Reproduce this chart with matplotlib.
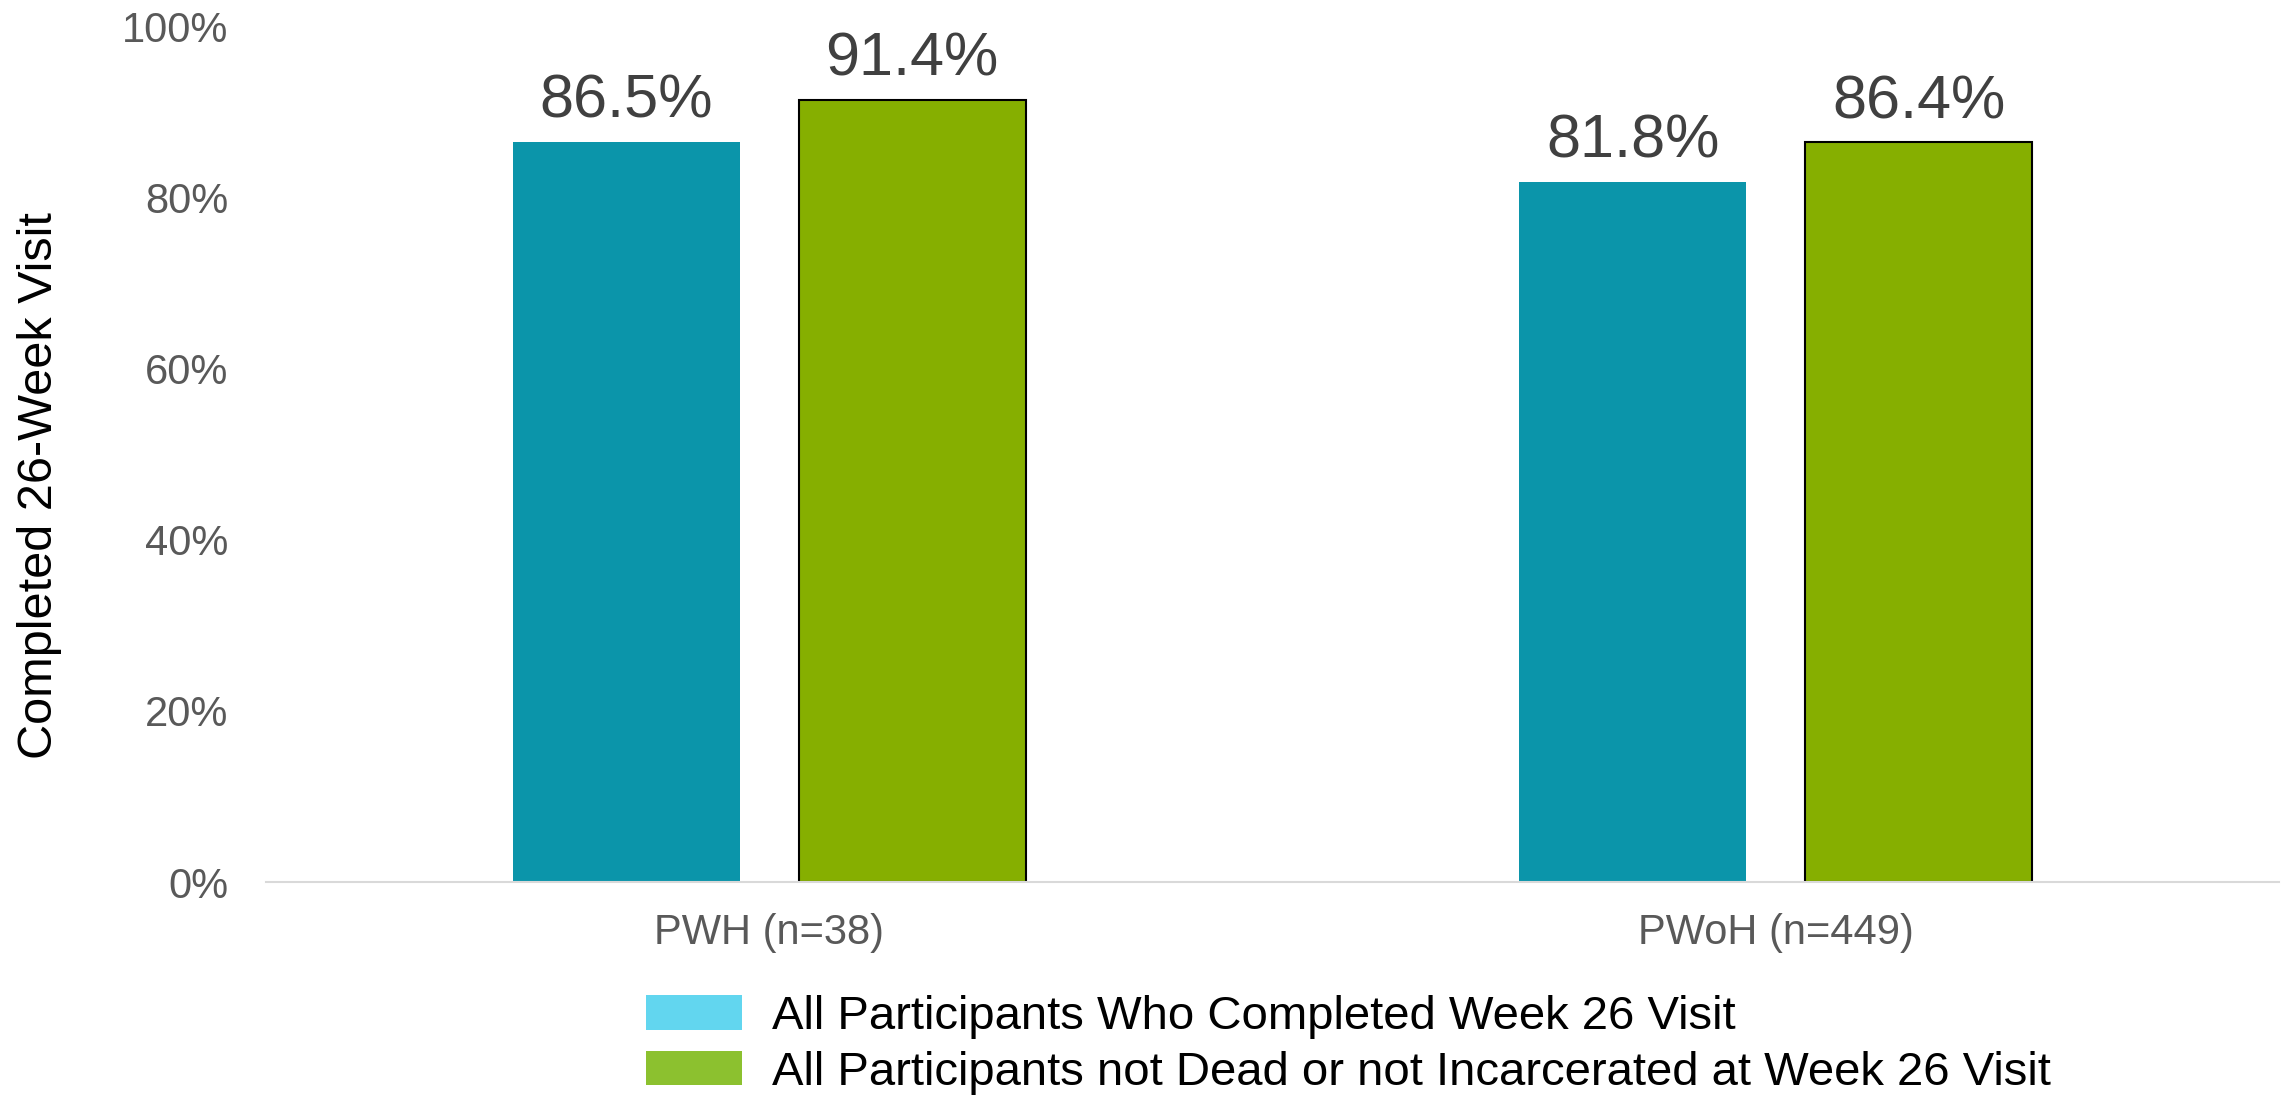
import matplotlib
matplotlib.use("Agg")
import matplotlib.pyplot as plt
from matplotlib.patches import Patch
import numpy as np

plt.rcParams['font.family'] = ['Liberation Sans', 'DejaVu Sans']

categories = ["PWH (n=38)", "PWoH (n=449)"]
series_names = ["All Participants Who Completed Week 26 Visit",
                "All Participants not Dead or not Incarcerated at Week 26 Visit"]
completed = [86.5, 81.8]
not_dead_incarcerated = [91.4, 86.4]
yticks = [0, 20, 40, 60, 80, 100]
ytick_labels = ["0%", "20%", "40%", "60%", "80%", "100%"]

bar_colors = ["#0B95AA", "#86AF00"]
legend_colors = ["#62D6EF", "#8CC12F"]

W, H = 2283, 1097
fig = plt.figure(figsize=(W / 100, H / 100), dpi=100)
ax = fig.add_axes([266 / W, 1 - 882 / H, (2279 - 266) / W, (882 - 26) / H])

x = np.arange(len(categories))
width = 0.2256
offset = 0.142
b1 = ax.bar(x - offset, completed, width, color=bar_colors[0], edgecolor='none')
b2 = ax.bar(x + offset, not_dead_incarcerated, width, color=bar_colors[1],
            edgecolor='black', linewidth=1.5)

for bars in (b1, b2):
    ax.bar_label(bars, labels=[f"{v:.1f}%" for v in bars.datavalues],
                 padding=8, fontsize=44, color='#404040')

ax.set_xlim(-0.5, 1.5)
ax.set_ylim(0, 100)
ax.set_yticks(yticks)
ax.set_yticklabels(ytick_labels)
ax.set_xticks(x)
ax.set_xticklabels(categories)
ax.tick_params(axis='y', length=0, pad=27, labelsize=30, labelcolor='#595959')
ax.tick_params(axis='x', length=0, pad=22, labelsize=30, labelcolor='#595959')

for s in ('top', 'right', 'left'):
    ax.spines[s].set_visible(False)
ax.spines['bottom'].set_color('#D9D9D9')
ax.spines['bottom'].set_linewidth(1.5)

ax.set_ylabel("Completed 26-Week Visit", fontsize=35, color='black')
ax.yaxis.set_label_coords((62 - 266) / 2013, (882 - 485.5) / 856)

handles = [Patch(facecolor=c, edgecolor='none') for c in legend_colors]
fig.legend(handles, series_names, loc='upper left',
           bbox_to_anchor=(646 / W, 1 - 995 / H), frameon=False,
           fontsize=34, handlelength=2.03, handleheight=0.74,
           handletextpad=0.64, labelspacing=0.25, borderpad=0,
           borderaxespad=0)

fig.savefig("out.png", dpi=100)
